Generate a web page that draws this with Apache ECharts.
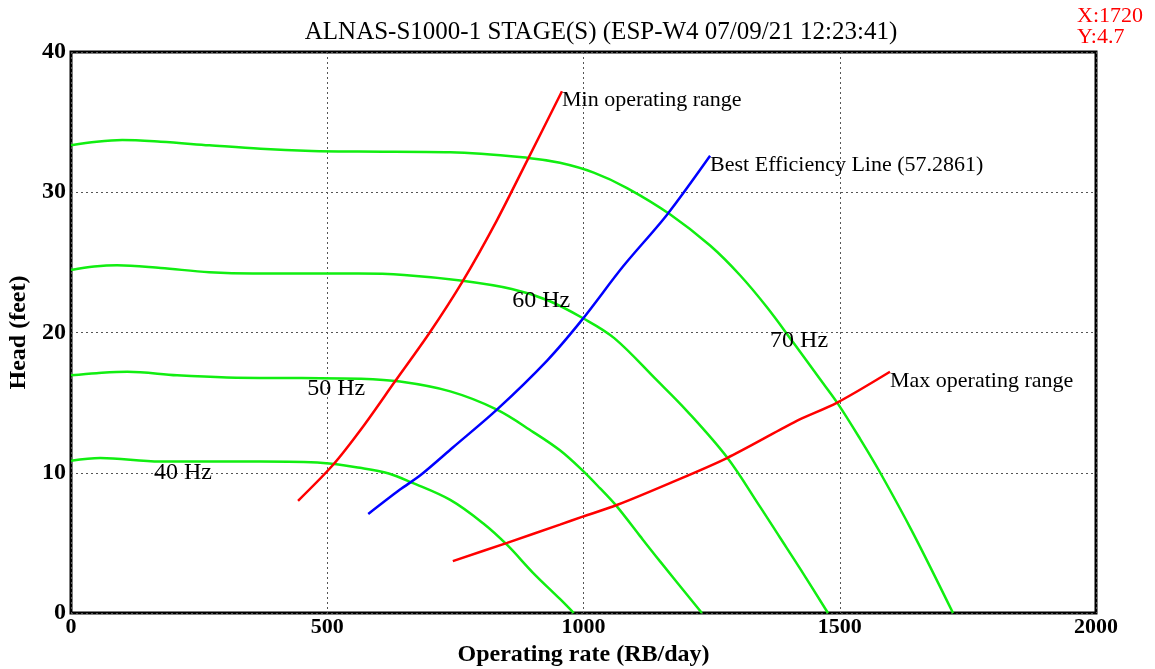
<!DOCTYPE html>
<html>
<head>
<meta charset="utf-8">
<script src="https://cdn.jsdelivr.net/npm/echarts@6/dist/echarts.min.js"></script>
<style>
  html, body { margin: 0; padding: 0; background: #fff; }
  #chart { width: 1155px; height: 669px; }
</style>
</head>
<body>
<div id="chart"></div>
<script>
// Pump performance curves: head vs. operating rate at four drive frequencies
const titleText = 'ALNAS-S1000-1 STAGE(S) (ESP-W4 07/09/21 12:23:41)';
const cursorText = ['X:1720', 'Y:4.7'];
const xTicks = [0, 500, 1000, 1500, 2000];
const yTicks = [0, 10, 20, 30, 40];

// Head curves [rate, head] per frequency
const hz70 = [[0,33.35],[50,33.6],[100,33.72],[175,33.6],[270,33.35],[370,33.1],[470,32.95],[560,32.9],[740,32.85],[892,32.45],[954,32.1],[1020,31.4],[1085,30.3],[1170,28.4],[1247,26.2],[1305,24.1],[1358,21.8],[1409,19.3],[1461,16.7],[1495,15.0],[1540,12.4],[1579,10.0],[1643,5.7],[1721,0]];
const hz60 = [[0,24.45],[45,24.7],[90,24.8],[175,24.6],[270,24.3],[355,24.2],[560,24.2],[650,24.1],[760,23.7],[860,23.1],[930,22.3],[1000,21.0],[1060,19.6],[1143,16.6],[1202,14.4],[1280,11.1],[1344,7.6],[1383,5.4],[1422,3.2],[1477,0]];
const hz50 = [[0,16.95],[50,17.1],[110,17.2],[207,16.95],[304,16.8],[450,16.75],[564,16.7],[642,16.5],[740,15.8],[831,14.5],[902,12.9],[954,11.6],[997,10.2],[1032,8.9],[1065,7.6],[1110,5.5],[1149,3.7],[1231,0]];
const hz40 = [[0,10.85],[57,11.05],[174,10.8],[369,10.8],[492,10.7],[564,10.35],[620,9.95],[665,9.3],[740,8.06],[804,6.4],[851,4.85],[902,2.85],[954,1.0],[981,0]];
const hzNames = ['40 Hz', '50 Hz', '60 Hz', '70 Hz'];
// where each frequency name is written [rate, head]
const hzLabelAt = [[162,10.0],[461,16.0],[861,22.3],[1364,19.4]];

// Operating envelope lines
const minRange = [[443,8.0],[511,10.55],[570,13.3],[632,16.5],[700,20.0],[765,23.7],[831,28.0],[892,32.4],[958,37.2]];
const bestEff = [[580,7.06],[642,8.8],[681,9.8],[745,11.8],[831,14.5],[929,18.0],[997,20.9],[1077,24.7],[1163,28.4],[1247,32.6]];
const maxRange = [[745,3.7],[851,5.0],[954,6.3],[997,6.85],[1065,7.7],[1171,9.3],[1280,11.05],[1383,13.05],[1422,13.8],[1495,15.0],[1598,17.2]];
const lineNames = ['Min operating range', 'Best Efficiency Line (57.2861)', 'Max operating range'];

const serif = '"Liberation Serif", "DejaVu Serif", serif';
const green = '#11ee11';

function curve(data, color, smooth) {
  return {
    type: 'line', data: data, showSymbol: false, smooth: smooth,
    lineStyle: { color: color, width: 2.5 }, silent: true, z: 3
  };
}

const ends = [minRange, bestEff, maxRange].map(s => s[s.length - 1]);

const option = {
  animation: false,
  backgroundColor: '#fff',
  grid: {
    left: 71, right: 59, top: 52, bottom: 56,
    outerBoundsMode: 'none', containLabel: false,
    show: true, borderColor: '#000', borderWidth: 3, backgroundColor: 'transparent'
  },
  xAxis: {
    type: 'value', min: xTicks[0], max: xTicks[xTicks.length - 1], interval: 500,
    name: 'Operating rate (RB/day)', nameLocation: 'middle', nameGap: 30,
    nameTextStyle: { fontFamily: serif, fontSize: 24, fontWeight: 'bold', color: '#000' },
    axisLine: { show: false }, axisTick: { show: false },
    axisLabel: { fontFamily: serif, fontSize: 22, fontWeight: 'bold', color: '#000', margin: 3, formatter: v => String(v) },
    splitLine: { show: true, lineStyle: { color: '#555', width: 1, type: [2, 3] } }
  },
  yAxis: {
    type: 'value', min: yTicks[0], max: yTicks[yTicks.length - 1], interval: 10,
    name: 'Head (feet)', nameLocation: 'middle', nameGap: 35, nameRotate: 90,
    nameTextStyle: { fontFamily: serif, fontSize: 24, fontWeight: 'bold', color: '#000' },
    axisLine: { show: false }, axisTick: { show: false },
    axisLabel: { fontFamily: serif, fontSize: 24, fontWeight: 'bold', color: '#000', margin: 5, formatter: v => String(v) },
    splitLine: { show: true, lineStyle: { color: '#555', width: 1, type: [2, 3] } }
  },
  graphic: [
    { type: 'text', x: 601, y: 32, style: { text: titleText, font: '25px ' + serif, fill: '#000', textAlign: 'center', textVerticalAlign: 'middle' } },
    { type: 'text', x: 1077, y: 16, style: { text: cursorText[0], font: '22px ' + serif, fill: '#ff0000', textAlign: 'left', textVerticalAlign: 'middle' } },
    { type: 'text', x: 1077, y: 37, style: { text: cursorText[1], font: '22px ' + serif, fill: '#ff0000', textAlign: 'left', textVerticalAlign: 'middle' } }
  ],
  series: [
    curve(hz40, green, 0.35),
    curve(hz50, green, 0.35),
    curve(hz60, green, 0.35),
    curve(hz70, green, 0.35),
    curve(minRange, '#ff0000', 0.3),
    curve(bestEff, '#0000ff', 0.3),
    curve(maxRange, '#ff0000', 0.3),
    {
      type: 'scatter', symbolSize: 1, silent: true, z: 5,
      itemStyle: { color: 'rgba(0,0,0,0)', opacity: 1 },
      data: hzLabelAt.map((p, i) => ({ value: p, name: hzNames[i] })),
      label: {
        show: true, position: 'inside', align: 'left', verticalAlign: 'middle',
        formatter: p => p.name, fontFamily: serif, fontSize: 24, color: '#000', opacity: 1
      }
    },
    {
      type: 'scatter', symbolSize: 1, silent: true, z: 5,
      itemStyle: { color: 'rgba(0,0,0,0)', opacity: 1 },
      data: ends.map((p, i) => ({ value: p, name: lineNames[i] })),
      label: {
        show: true, position: 'inside', align: 'left', verticalAlign: 'top', offset: [0, -2],
        formatter: p => p.name, fontFamily: serif, fontSize: 22, color: '#000', opacity: 1
      }
    }
  ]
};

const chart = echarts.init(document.getElementById('chart'), null, { renderer: 'canvas' });
chart.setOption(option);
</script>
</body>
</html>
